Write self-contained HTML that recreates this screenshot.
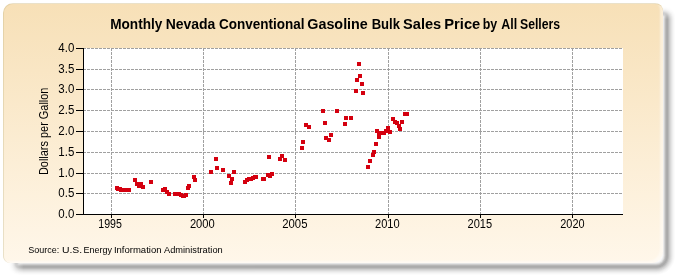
<!DOCTYPE html>
<html><head><meta charset="utf-8"><style>
html,body{margin:0;padding:0;background:#fff;width:675px;height:275px;overflow:hidden}
#panel{position:absolute;left:2.5px;top:3px;width:659.5px;height:258.5px;border-top:1px solid rgba(185,175,125,0.3);border-left:1px solid rgba(185,175,125,0.3);border-radius:10px 8px 12px 7px;box-shadow:inset -3px -2px 2px rgba(255,255,255,0.45);background:linear-gradient(to bottom,rgb(247,224,183) 0%,rgb(255,247,234) 100%);}
svg{position:absolute;left:0;top:0;will-change:transform}
text{font-family:"Liberation Sans",sans-serif;fill:#000}
.lab{font-size:12px}
.title{font-size:14px;font-weight:bold}
.ytitle{font-size:12px}
.src{font-size:9.5px}
</style></head><body>
<svg style="position:absolute;left:0;top:0" width="675" height="275"><defs><linearGradient id="gx" x1="0" y1="0" x2="675" y2="0" gradientUnits="userSpaceOnUse"><stop offset="0.009" stop-color="#000"/><stop offset="0.035" stop-color="#fff"/></linearGradient><linearGradient id="gy" x1="0" y1="0" x2="0" y2="275" gradientUnits="userSpaceOnUse"><stop offset="0.02" stop-color="#000"/><stop offset="0.07" stop-color="#fff"/></linearGradient><mask id="mx" maskUnits="userSpaceOnUse" x="0" y="0" width="675" height="275"><rect width="675" height="275" fill="url(#gx)"/></mask><mask id="my" maskUnits="userSpaceOnUse" x="0" y="0" width="675" height="275"><rect width="675" height="275" fill="url(#gy)"/></mask></defs><g mask="url(#mx)"><g mask="url(#my)"><path d="M22,5 L663,5 A12,12 0 0 1 675,17 L675,255.8 A19,19 0 0 1 656,274.8 L19,274.8 A11,11 0 0 1 8,263.8 L8,19 A14,14 0 0 1 22,5 Z" fill="rgb(251,251,251)"/><path d="M22,6 L663,6 A11,11 0 0 1 674,17 L674,255.8 A18,18 0 0 1 656,273.8 L19,273.8 A10,10 0 0 1 9,263.8 L9,19 A13,13 0 0 1 22,6 Z" fill="rgb(246,246,246)"/><path d="M22,7 L663,7 A10,10 0 0 1 673,17 L673,255.8 A17,17 0 0 1 656,272.8 L19,272.8 A9,9 0 0 1 10,263.8 L10,19 A12,12 0 0 1 22,7 Z" fill="rgb(238,238,238)"/><path d="M22,8 L663,8 A9,9 0 0 1 672,17 L672,255.8 A16,16 0 0 1 656,271.8 L19,271.8 A8,8 0 0 1 11,263.8 L11,19 A11,11 0 0 1 22,8 Z" fill="rgb(228,228,228)"/><path d="M22,9 L663,9 A8,8 0 0 1 671,17 L671,255.8 A15,15 0 0 1 656,270.8 L19,270.8 A7,7 0 0 1 12,263.8 L12,19 A10,10 0 0 1 22,9 Z" fill="rgb(216,216,216)"/><path d="M22,10 L663,10 A7,7 0 0 1 670,17 L670,255.8 A14,14 0 0 1 656,269.8 L19,269.8 A6,6 0 0 1 13,263.8 L13,19 A9,9 0 0 1 22,10 Z" fill="rgb(202,202,202)"/><path d="M22,11 L663,11 A6,6 0 0 1 669,17 L669,255.8 A13,13 0 0 1 656,268.8 L19,268.8 A5,5 0 0 1 14,263.8 L14,19 A8,8 0 0 1 22,11 Z" fill="rgb(184,184,184)"/><path d="M22,12 L663,12 A5,5 0 0 1 668,17 L668,255.8 A12,12 0 0 1 656,267.8 L19,267.8 A4,4 0 0 1 15,263.8 L15,19 A7,7 0 0 1 22,12 Z" fill="rgb(170,170,170)"/><path d="M22,13 L663,13 A4,4 0 0 1 667,17 L667,255.8 A11,11 0 0 1 656,266.8 L19,266.8 A3,3 0 0 1 16,263.8 L16,19 A6,6 0 0 1 22,13 Z" fill="rgb(172,172,172)"/><path d="M22,14 L663,14 A3,3 0 0 1 666,17 L666,255.8 A10,10 0 0 1 656,265.8 L19,265.8 A2,2 0 0 1 17,263.8 L17,19 A5,5 0 0 1 22,14 Z" fill="rgb(186,186,186)"/><path d="M22,15 L663,15 A2,2 0 0 1 665,17 L665,255.8 A9,9 0 0 1 656,264.8 L19,264.8 A1,1 0 0 1 18,263.8 L18,19 A4,4 0 0 1 22,15 Z" fill="rgb(210,210,210)"/><path d="M22,16 L663,16 A1,1 0 0 1 664,17 L664,255.8 A8,8 0 0 1 656,263.8 L20.0,263.8 A1.0,1.0 0 0 1 19,262.8 L19,19 A3,3 0 0 1 22,16 Z" fill="rgb(234,234,234)"/><path d="M22,17 L662.0,17 A1.0,1.0 0 0 1 663,18.0 L663,255.8 A7,7 0 0 1 656,262.8 L21.0,262.8 A1.0,1.0 0 0 1 20,261.8 L20,19 A2,2 0 0 1 22,17 Z" fill="rgb(248,248,248)"/><path d="M22.5,18 L661.0,18 A1.0,1.0 0 0 1 662,19.0 L662,255.8 A6,6 0 0 1 656,261.8 L22.0,261.8 A1.0,1.0 0 0 1 21,260.8 L21,19.5 A1.5,1.5 0 0 1 22.5,18 Z" fill="rgb(252,252,252)"/></g></g></svg>
<div id="panel"></div>
<svg width="675" height="275" viewBox="0 0 675 275" shape-rendering="crispEdges">
<rect x="84" y="48" width="539" height="166" fill="#ffffff"/>
<line x1="83" y1="48.5" x2="623" y2="48.5" stroke="#a0a0a0" stroke-width="1" stroke-dasharray="3 1"/>
<line x1="83" y1="69.5" x2="623" y2="69.5" stroke="#a0a0a0" stroke-width="1" stroke-dasharray="3 1"/>
<line x1="83" y1="89.5" x2="623" y2="89.5" stroke="#a0a0a0" stroke-width="1" stroke-dasharray="3 1"/>
<line x1="83" y1="110.5" x2="623" y2="110.5" stroke="#a0a0a0" stroke-width="1" stroke-dasharray="3 1"/>
<line x1="83" y1="131.5" x2="623" y2="131.5" stroke="#a0a0a0" stroke-width="1" stroke-dasharray="3 1"/>
<line x1="83" y1="152.5" x2="623" y2="152.5" stroke="#a0a0a0" stroke-width="1" stroke-dasharray="3 1"/>
<line x1="83" y1="173.5" x2="623" y2="173.5" stroke="#a0a0a0" stroke-width="1" stroke-dasharray="3 1"/>
<line x1="83" y1="193.5" x2="623" y2="193.5" stroke="#a0a0a0" stroke-width="1" stroke-dasharray="3 1"/>
<line x1="111.5" y1="48" x2="111.5" y2="214" stroke="#a0a0a0" stroke-width="1" stroke-dasharray="3 1"/>
<line x1="203.5" y1="48" x2="203.5" y2="214" stroke="#a0a0a0" stroke-width="1" stroke-dasharray="3 1"/>
<line x1="295.5" y1="48" x2="295.5" y2="214" stroke="#a0a0a0" stroke-width="1" stroke-dasharray="3 1"/>
<line x1="388.5" y1="48" x2="388.5" y2="214" stroke="#a0a0a0" stroke-width="1" stroke-dasharray="3 1"/>
<line x1="480.5" y1="48" x2="480.5" y2="214" stroke="#a0a0a0" stroke-width="1" stroke-dasharray="3 1"/>
<line x1="572.5" y1="48" x2="572.5" y2="214" stroke="#a0a0a0" stroke-width="1" stroke-dasharray="3 1"/>
<line x1="83.5" y1="48" x2="83.5" y2="215" stroke="#000" stroke-width="1"/>
<line x1="83" y1="214.5" x2="623" y2="214.5" stroke="#000" stroke-width="1"/>
<line x1="76" y1="48.5" x2="84" y2="48.5" stroke="#000" stroke-width="1"/>
<line x1="76" y1="69.5" x2="84" y2="69.5" stroke="#000" stroke-width="1"/>
<line x1="76" y1="89.5" x2="84" y2="89.5" stroke="#000" stroke-width="1"/>
<line x1="76" y1="110.5" x2="84" y2="110.5" stroke="#000" stroke-width="1"/>
<line x1="76" y1="131.5" x2="84" y2="131.5" stroke="#000" stroke-width="1"/>
<line x1="76" y1="152.5" x2="84" y2="152.5" stroke="#000" stroke-width="1"/>
<line x1="76" y1="173.5" x2="84" y2="173.5" stroke="#000" stroke-width="1"/>
<line x1="76" y1="193.5" x2="84" y2="193.5" stroke="#000" stroke-width="1"/>
<line x1="76" y1="214.5" x2="84" y2="214.5" stroke="#000" stroke-width="1"/>
<line x1="111.5" y1="214" x2="111.5" y2="218" stroke="#000" stroke-width="1"/>
<line x1="203.5" y1="214" x2="203.5" y2="218" stroke="#000" stroke-width="1"/>
<line x1="295.5" y1="214" x2="295.5" y2="218" stroke="#000" stroke-width="1"/>
<line x1="388.5" y1="214" x2="388.5" y2="218" stroke="#000" stroke-width="1"/>
<line x1="480.5" y1="214" x2="480.5" y2="218" stroke="#000" stroke-width="1"/>
<line x1="572.5" y1="214" x2="572.5" y2="218" stroke="#000" stroke-width="1"/>
<rect x="115" y="186" width="4" height="4" fill="#d4000f"/>
<rect x="116" y="187" width="4" height="4" fill="#d4000f"/>
<rect x="118" y="187" width="4" height="4" fill="#d4000f"/>
<rect x="119" y="188" width="4" height="4" fill="#d4000f"/>
<rect x="121" y="188" width="4" height="4" fill="#d4000f"/>
<rect x="122" y="188" width="4" height="4" fill="#d4000f"/>
<rect x="124" y="188" width="4" height="4" fill="#d4000f"/>
<rect x="125" y="188" width="4" height="4" fill="#d4000f"/>
<rect x="127" y="188" width="4" height="4" fill="#d4000f"/>
<rect x="133" y="178" width="4" height="4" fill="#d4000f"/>
<rect x="135" y="182" width="4" height="4" fill="#d4000f"/>
<rect x="137" y="184" width="4" height="4" fill="#d4000f"/>
<rect x="139" y="182" width="4" height="4" fill="#d4000f"/>
<rect x="141" y="185" width="4" height="4" fill="#d4000f"/>
<rect x="149" y="180" width="4" height="4" fill="#d4000f"/>
<rect x="161" y="188" width="4" height="4" fill="#d4000f"/>
<rect x="163" y="187" width="4" height="4" fill="#d4000f"/>
<rect x="165" y="190" width="4" height="4" fill="#d4000f"/>
<rect x="167" y="192" width="4" height="4" fill="#d4000f"/>
<rect x="173" y="192" width="4" height="4" fill="#d4000f"/>
<rect x="175" y="192" width="4" height="4" fill="#d4000f"/>
<rect x="177" y="192" width="4" height="4" fill="#d4000f"/>
<rect x="179" y="193" width="4" height="4" fill="#d4000f"/>
<rect x="181" y="194" width="4" height="4" fill="#d4000f"/>
<rect x="182" y="194" width="4" height="4" fill="#d4000f"/>
<rect x="184" y="193" width="4" height="4" fill="#d4000f"/>
<rect x="186" y="186" width="4" height="4" fill="#d4000f"/>
<rect x="187" y="184" width="4" height="4" fill="#d4000f"/>
<rect x="192" y="175" width="4" height="4" fill="#d4000f"/>
<rect x="193" y="178" width="4" height="4" fill="#d4000f"/>
<rect x="209" y="170" width="4" height="4" fill="#d4000f"/>
<rect x="214" y="157" width="4" height="4" fill="#d4000f"/>
<rect x="215" y="166" width="4" height="4" fill="#d4000f"/>
<rect x="221" y="168" width="4" height="4" fill="#d4000f"/>
<rect x="227" y="174" width="4" height="4" fill="#d4000f"/>
<rect x="230" y="177" width="4" height="4" fill="#d4000f"/>
<rect x="229" y="181" width="4" height="4" fill="#d4000f"/>
<rect x="232" y="170" width="4" height="4" fill="#d4000f"/>
<rect x="243" y="180" width="4" height="4" fill="#d4000f"/>
<rect x="245" y="178" width="4" height="4" fill="#d4000f"/>
<rect x="247" y="177" width="4" height="4" fill="#d4000f"/>
<rect x="249" y="177" width="4" height="4" fill="#d4000f"/>
<rect x="251" y="176" width="4" height="4" fill="#d4000f"/>
<rect x="253" y="175" width="4" height="4" fill="#d4000f"/>
<rect x="254" y="175" width="4" height="4" fill="#d4000f"/>
<rect x="261" y="177" width="4" height="4" fill="#d4000f"/>
<rect x="262" y="177" width="4" height="4" fill="#d4000f"/>
<rect x="266" y="173" width="4" height="4" fill="#d4000f"/>
<rect x="268" y="174" width="4" height="4" fill="#d4000f"/>
<rect x="270" y="172" width="4" height="4" fill="#d4000f"/>
<rect x="267" y="155" width="4" height="4" fill="#d4000f"/>
<rect x="278" y="157" width="4" height="4" fill="#d4000f"/>
<rect x="280" y="154" width="4" height="4" fill="#d4000f"/>
<rect x="283" y="158" width="4" height="4" fill="#d4000f"/>
<rect x="301" y="140" width="4" height="4" fill="#d4000f"/>
<rect x="300" y="146" width="4" height="4" fill="#d4000f"/>
<rect x="304" y="123" width="4" height="4" fill="#d4000f"/>
<rect x="307" y="125" width="4" height="4" fill="#d4000f"/>
<rect x="321" y="109" width="4" height="4" fill="#d4000f"/>
<rect x="323" y="121" width="4" height="4" fill="#d4000f"/>
<rect x="324" y="136" width="4" height="4" fill="#d4000f"/>
<rect x="327" y="138" width="4" height="4" fill="#d4000f"/>
<rect x="329" y="133" width="4" height="4" fill="#d4000f"/>
<rect x="335" y="109" width="4" height="4" fill="#d4000f"/>
<rect x="344" y="116" width="4" height="4" fill="#d4000f"/>
<rect x="349" y="116" width="4" height="4" fill="#d4000f"/>
<rect x="343" y="122" width="4" height="4" fill="#d4000f"/>
<rect x="357" y="62" width="4" height="4" fill="#d4000f"/>
<rect x="358" y="74" width="4" height="4" fill="#d4000f"/>
<rect x="355" y="78" width="4" height="4" fill="#d4000f"/>
<rect x="360" y="82" width="4" height="4" fill="#d4000f"/>
<rect x="354" y="89" width="4" height="4" fill="#d4000f"/>
<rect x="361" y="91" width="4" height="4" fill="#d4000f"/>
<rect x="366" y="165" width="4" height="4" fill="#d4000f"/>
<rect x="368" y="159" width="4" height="4" fill="#d4000f"/>
<rect x="372" y="150" width="4" height="4" fill="#d4000f"/>
<rect x="371" y="153" width="4" height="4" fill="#d4000f"/>
<rect x="374" y="142" width="4" height="4" fill="#d4000f"/>
<rect x="377" y="135" width="4" height="4" fill="#d4000f"/>
<rect x="375" y="129" width="4" height="4" fill="#d4000f"/>
<rect x="377" y="131" width="4" height="4" fill="#d4000f"/>
<rect x="380" y="131" width="4" height="4" fill="#d4000f"/>
<rect x="382" y="131" width="4" height="4" fill="#d4000f"/>
<rect x="384" y="129" width="4" height="4" fill="#d4000f"/>
<rect x="386" y="126" width="4" height="4" fill="#d4000f"/>
<rect x="388" y="130" width="4" height="4" fill="#d4000f"/>
<rect x="391" y="117" width="4" height="4" fill="#d4000f"/>
<rect x="393" y="120" width="4" height="4" fill="#d4000f"/>
<rect x="395" y="121" width="4" height="4" fill="#d4000f"/>
<rect x="397" y="124" width="4" height="4" fill="#d4000f"/>
<rect x="398" y="127" width="4" height="4" fill="#d4000f"/>
<rect x="400" y="120" width="4" height="4" fill="#d4000f"/>
<rect x="403" y="112" width="4" height="4" fill="#d4000f"/>
<rect x="405" y="112" width="4" height="4" fill="#d4000f"/>
<text x="74.3" y="52.2" text-anchor="end" class="lab" textLength="16" lengthAdjust="spacingAndGlyphs">4.0</text>
<text x="74.3" y="73.2" text-anchor="end" class="lab" textLength="16" lengthAdjust="spacingAndGlyphs">3.5</text>
<text x="74.3" y="93.2" text-anchor="end" class="lab" textLength="16" lengthAdjust="spacingAndGlyphs">3.0</text>
<text x="74.3" y="114.2" text-anchor="end" class="lab" textLength="16" lengthAdjust="spacingAndGlyphs">2.5</text>
<text x="74.3" y="135.2" text-anchor="end" class="lab" textLength="16" lengthAdjust="spacingAndGlyphs">2.0</text>
<text x="74.3" y="156.2" text-anchor="end" class="lab" textLength="16" lengthAdjust="spacingAndGlyphs">1.5</text>
<text x="74.3" y="177.2" text-anchor="end" class="lab" textLength="16" lengthAdjust="spacingAndGlyphs">1.0</text>
<text x="74.3" y="197.2" text-anchor="end" class="lab" textLength="16" lengthAdjust="spacingAndGlyphs">0.5</text>
<text x="74.3" y="218.2" text-anchor="end" class="lab" textLength="16" lengthAdjust="spacingAndGlyphs">0.0</text>
<text x="98.32" y="227.7" class="lab" textLength="23.61" lengthAdjust="spacingAndGlyphs">1995</text>
<text x="189.9" y="227.7" class="lab" textLength="24.8" lengthAdjust="spacingAndGlyphs">2000</text>
<text x="282.26" y="227.7" class="lab" textLength="25.21" lengthAdjust="spacingAndGlyphs">2005</text>
<text x="374.98" y="227.7" class="lab" textLength="24.67" lengthAdjust="spacingAndGlyphs">2010</text>
<text x="467.58" y="227.7" class="lab" textLength="24.57" lengthAdjust="spacingAndGlyphs">2015</text>
<text x="560.29" y="227.7" class="lab" textLength="24.25" lengthAdjust="spacingAndGlyphs">2020</text>
<text x="110.23" y="28.6" class="title" textLength="52.11" lengthAdjust="spacingAndGlyphs">Monthly</text>
<text x="165.7" y="28.6" class="title" textLength="49.71" lengthAdjust="spacingAndGlyphs">Nevada</text>
<text x="219.04" y="28.6" class="title" textLength="85.51" lengthAdjust="spacingAndGlyphs">Conventional</text>
<text x="307.28" y="28.6" class="title" textLength="60.57" lengthAdjust="spacingAndGlyphs">Gasoline</text>
<text x="371.67" y="28.6" class="title" textLength="28.36" lengthAdjust="spacingAndGlyphs">Bulk</text>
<text x="403.06" y="28.6" class="title" textLength="38.16" lengthAdjust="spacingAndGlyphs">Sales</text>
<text x="444.25" y="28.6" class="title" textLength="36.01" lengthAdjust="spacingAndGlyphs">Price</text>
<text x="482.71" y="28.6" class="title" textLength="14.49" lengthAdjust="spacingAndGlyphs">by</text>
<text x="501.3" y="28.6" class="title" textLength="15.89" lengthAdjust="spacingAndGlyphs">All</text>
<text x="520.03" y="28.6" class="title" textLength="40.09" lengthAdjust="spacingAndGlyphs">Sellers</text>
<text transform="translate(47.8,131.3) rotate(-90)" text-anchor="middle" class="ytitle" textLength="87.5" lengthAdjust="spacingAndGlyphs">Dollars per Gallon</text>
<text x="28.35" y="252.8" class="src" textLength="30.95" lengthAdjust="spacingAndGlyphs">Source:</text>
<text x="61.91" y="252.8" class="src" textLength="20.22" lengthAdjust="spacingAndGlyphs">U.S.</text>
<text x="83.56" y="252.8" class="src" textLength="28.45" lengthAdjust="spacingAndGlyphs">Energy</text>
<text x="113.9" y="252.8" class="src" textLength="47.63" lengthAdjust="spacingAndGlyphs">Information</text>
<text x="164.0" y="252.8" class="src" textLength="58.7" lengthAdjust="spacingAndGlyphs">Administration</text>
</svg>
</body></html>
